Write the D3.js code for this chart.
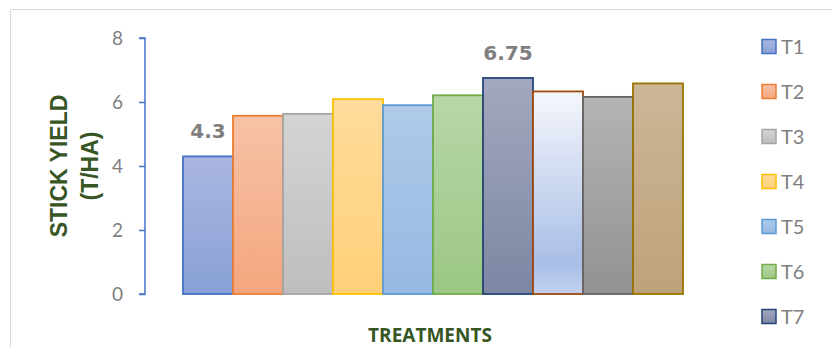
<!DOCTYPE html>
<html>
<head>
<meta charset="utf-8">
<script src="https://cdn.jsdelivr.net/npm/d3@7"></script>
<style>
  body { margin: 0; background: #fff; }
  svg { display: block; }
</style>
</head>
<body>
<div id="chart"></div>
<script>
// Data
const treatments = ['T1', 'T2', 'T3', 'T4', 'T5', 'T6', 'T7', 'T8', 'T9', 'T10'];
const stickYield = [4.3, 5.57, 5.63, 6.09, 5.9, 6.21, 6.75, 6.33, 6.16, 6.58];
const yTicks = [0, 2, 4, 6, 8];
const labelledBars = ['T1', 'T7'];

// Excel-like colours: outline, gradient top, gradient bottom
const strokes = ['#4472C4', '#ED7D31', '#A5A5A5', '#FFC000', '#5B9BD5', '#70AD47', '#264478', '#9E480E', '#636363', '#997300'];
const fillTop = ['#AAB6E0', '#F7C2A7', '#D4D4D4', '#FFDC9B', '#B0CAE9', '#B7D7A7', '#A3A8BE', '#F5F7FC', '#B4B4B4', '#CDB697'];
const fillBottom = ['#89A1D6', '#F4A67E', '#BEBEBE', '#FFD079', '#96B9E2', '#9CC785', '#7D86A3', '#C3D1EE', '#929292', '#BDA37A'];

const width = 832, height = 347;
const svg = d3.select('#chart').append('svg')
    .attr('width', width)
    .attr('height', height);

const defs = svg.append('defs');
treatments.forEach((t, i) => {
    const g = defs.append('linearGradient')
        .attr('id', 'grad' + i)
        .attr('x1', 0).attr('y1', 0).attr('x2', 0).attr('y2', 1);
    g.append('stop').attr('offset', '0%').attr('stop-color', fillTop[i]);
    if (t === 'T8') {
        g.append('stop').attr('offset', '85%').attr('stop-color', '#A9BEE6');
    }
    g.append('stop').attr('offset', '100%').attr('stop-color', fillBottom[i]);
});

// chart area border (top and left visible)
svg.append('path')
    .attr('d', 'M10.5,' + height + 'V9.5H' + width)
    .attr('fill', 'none')
    .attr('stroke', '#d9d9d9')
    .attr('stroke-width', 1);

const x = d3.scaleBand()
    .domain(treatments)
    .range([183, 683])
    .paddingInner(0)
    .paddingOuter(0);

const y = d3.scaleLinear()
    .domain([0, 8])
    .range([294, 38]);

// y axis
const yAxis = svg.append('g')
    .attr('transform', 'translate(145,0)')
    .call(d3.axisLeft(y).tickValues(yTicks).tickSize(6).tickPadding(16));
yAxis.select('.domain')
    .attr('stroke', '#4472C4')
    .attr('stroke-width', 1.5)
    .attr('d', 'M-6,' + y(8) + 'H0V' + y(0) + 'H-6');
yAxis.selectAll('.tick line').attr('stroke', '#4472C4').attr('stroke-width', 1.5);
yAxis.selectAll('.tick text')
    .attr('fill', '#7f7f7f')
    .style('font-family', 'Lato, "Liberation Sans", sans-serif')
    .style('font-size', '19px');

// bars
svg.append('g').selectAll('rect')
    .data(treatments)
    .join('rect')
    .attr('x', d => x(d))
    .attr('y', (d, i) => y(stickYield[i]))
    .attr('width', x.bandwidth())
    .attr('height', (d, i) => y(0) - y(stickYield[i]))
    .attr('fill', (d, i) => 'url(#grad' + i + ')')
    .attr('stroke', (d, i) => strokes[i])
    .attr('stroke-width', 1.8);

// data labels
svg.append('g').selectAll('text')
    .data(treatments.filter(t => labelledBars.includes(t)))
    .join('text')
    .attr('x', d => x(d) + x.bandwidth() / 2)
    .attr('y', d => y(stickYield[treatments.indexOf(d)]) - 18)
    .attr('text-anchor', 'middle')
    .attr('fill', '#7f7f7f')
    .style('font-family', '"DejaVu Sans", sans-serif')
    .style('font-weight', 'bold')
    .style('font-size', '20px')
    .text(d => stickYield[treatments.indexOf(d)]);

// axis titles
const yTitle = svg.append('text')
    .attr('transform', 'translate(67,166) rotate(-90)')
    .attr('text-anchor', 'middle')
    .attr('fill', '#375623')
    .style('font-family', '"Liberation Sans", Arial, sans-serif')
    .style('font-weight', 'bold')
    .style('font-size', '23px');
yTitle.append('tspan').attr('x', 0).attr('dy', 0).text('STICK YIELD');
yTitle.append('tspan').attr('x', 0).attr('dy', 31).text('(T/HA)');

svg.append('text')
    .attr('x', 430)
    .attr('y', 342)
    .attr('text-anchor', 'middle')
    .attr('fill', '#375623')
    .style('font-family', '"Open Sans", sans-serif')
    .style('font-weight', 'bold')
    .style('font-size', '19px')
    .text('TREATMENTS');

// legend: only the entries that fit in the frame (T1..T7 are visible)
const legendStep = 45, legendTop = 39.5;
const legendItems = treatments.filter((d, i) => legendTop + i * legendStep + 20 < height);
const legend = svg.append('g').selectAll('g')
    .data(legendItems)
    .join('g')
    .attr('transform', (d, i) => 'translate(762,' + (legendTop + i * legendStep) + ')');

legend.append('rect')
    .attr('width', 14)
    .attr('height', 14)
    .attr('fill', (d, i) => 'url(#grad' + i + ')')
    .attr('stroke', (d, i) => strokes[i])
    .attr('stroke-width', 1.5);

legend.append('text')
    .attr('x', 19)
    .attr('y', 14)
    .attr('fill', '#7f7f7f')
    .style('font-family', 'Lato, "Liberation Sans", sans-serif')
    .style('font-size', '20px')
    .text(d => d);
</script>
</body>
</html>
